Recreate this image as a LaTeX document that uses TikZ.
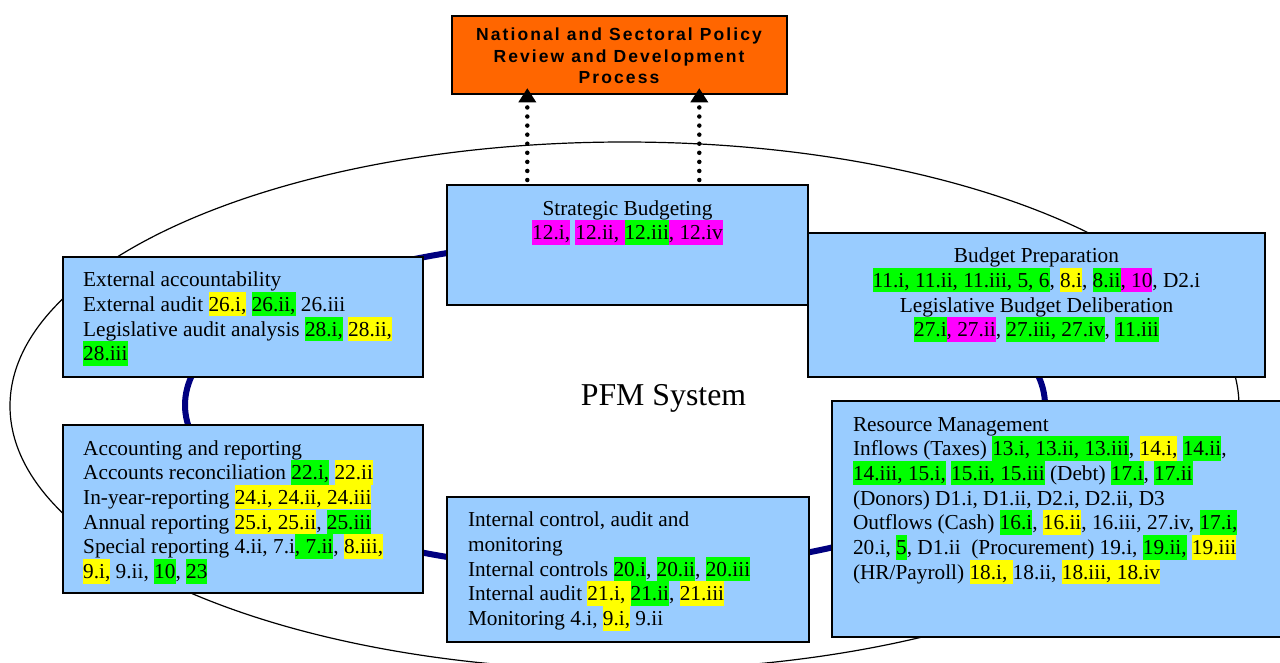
\documentclass[tikz,border=0pt]{standalone}
\usepackage{fontspec}
\setmainfont{Liberation Serif}
\newfontfamily\ofont[LetterSpace=12]{Liberation Sans}
\usetikzlibrary{arrows.meta,calc}
\definecolor{boxblue}{HTML}{99CCFF}
\definecolor{orangefill}{HTML}{FF6600}
\definecolor{ringnavy}{RGB}{0,0,128}
\definecolor{hly}{HTML}{FFFF00}
\definecolor{hlg}{HTML}{00FF00}
\definecolor{hlm}{HTML}{FF00FF}
\newcommand\hlbox[2]{{\setlength{\fboxsep}{0pt}\colorbox{#1}{\rule[-5pt]{0pt}{24.5pt}#2}}}
\newcommand\hy[1]{\hlbox{hly}{#1}}
\newcommand\hg[1]{\hlbox{hlg}{#1}}
\newcommand\hm[1]{\hlbox{hlm}{#1}}
\newcommand\leftrows[2]{\vtop{\baselineskip=#1\lineskiplimit=-100pt\lineskip=0pt\halign{##\hfil\cr#2\crcr}}}
\newcommand\centerrows[2]{\vtop{\baselineskip=#1\lineskiplimit=-100pt\lineskip=0pt\halign{\hfil##\hfil\cr#2\crcr}}}
\begin{document}
\begin{tikzpicture}[x=1pt,y=-1pt,
  bluebox/.style={draw=black, line width=2pt, fill=boxblue, outer sep=0pt, inner sep=0pt, anchor=north west},
  bodytext/.style={inner sep=0pt, outer sep=0pt, font=\fontsize{21.3}{24.7}\selectfont},
  dotarrow/.style={line width=4.5pt, line cap=round, dash pattern=on 0pt off 9.07pt,
    -{Triangle[width=18pt,length=14pt,line width=0pt]}, shorten <=5pt, shorten >=-6pt}]
\useasboundingbox (0,0) rectangle (1280,662);
\clip (0,0) rectangle (1280,662);
\fill[white] (0,0) rectangle (1280,662);
% outer thin ellipse and navy ring
\draw[line width=1.2pt] (624.5,406) ellipse [x radius=614.5pt, y radius=264pt];
\draw[ringnavy, line width=6pt] (615,405) ellipse [x radius=430pt, y radius=165pt];
% boxes
\node[bluebox, minimum width=361pt, minimum height=120pt] (sb) at (447,185) {};
\node[bluebox, minimum width=457pt, minimum height=144pt] (bp) at (808,232.7) {};
\node[bluebox, minimum width=360pt, minimum height=120.6pt] (ea) at (62.5,256.7) {};
\node[bluebox, minimum width=360pt, minimum height=168pt] (ar) at (62.5,425) {};
\node[bluebox, minimum width=361.7pt, minimum height=145pt] (ic) at (447.3,496.7) {};
\node[bluebox, minimum width=460pt, minimum height=236pt] (rm) at (832.3,401) {};
\node[draw=black, line width=2pt, fill=orangefill, minimum width=335pt, minimum height=78.3pt,
  anchor=north west, outer sep=0pt, inner sep=0pt] (ob) at (451.7,16) {};
% texts
\node[inner sep=0pt, anchor=base, font=\ofont\bfseries\fontsize{17.5}{21.3}\selectfont] (obt) at (619,40.7)
  {\centerrows{21.3pt}{National and Sectoral Policy\cr Review and Development\cr Process}};
\node[bodytext, anchor=base] (sbt) at ($(sb.north)+(0,30)$)
  {\centerrows{24.7pt}{Strategic Budgeting\cr
  \hm{12.i,} \hm{12.ii, }\hg{12.iii}\hm{, 12.iv}}};
\node[bodytext, anchor=base] (bpt) at ($(bp.north)+(0,30)$)
  {\centerrows{24.7pt}{Budget Preparation\cr
  \hg{11.i, 11.ii, 11.iii, 5, 6}, \hy{8.i}, \hg{8.ii}\hm{, 10}, D2.i\cr
  Legislative Budget Deliberation\cr
  \hg{27.i}\hm{, 27.ii}, \hg{27.iii, 27.iv}, \hg{11.iii}}};
\node[bodytext, anchor=base west] (eat) at ($(ea.north west)+(20.7,30)$)
  {\leftrows{24.7pt}{External accountability\cr
  External audit \hy{26.i,} \hg{26.ii,} 26.iii\cr
  Legislative audit analysis \hg{28.i,} \hy{28.ii,}\cr
  \hg{28.iii}}};
\node[bodytext, anchor=base west] (art) at ($(ar.north west)+(20.7,30)$)
  {\leftrows{24.7pt}{Accounting and reporting\cr
  Accounts reconciliation \hg{22.i,} \hy{22.ii}\cr
  In-year-reporting \hy{24.i, 24.ii, 24.iii}\cr
  Annual reporting \hy{25.i, 25.ii}, \hg{25.iii}\cr
  Special reporting 4.ii, 7.i\hg{, 7.ii}, \hy{8.iii,}\cr
  \hy{9.i,} 9.ii, \hg{10}, \hg{23}}};
\node[bodytext, anchor=base west] (ict) at ($(ic.north west)+(20.7,30)$)
  {\leftrows{24.7pt}{Internal control, audit and\cr
  monitoring\cr
  Internal controls \hg{20.i}, \hg{20.ii}, \hg{20.iii}\cr
  Internal audit \hy{21.i, }\hg{21.ii}, \hy{21.iii}\cr
  Monitoring 4.i, \hy{9.i,} 9.ii}};
\node[bodytext, anchor=base west] (rmt) at ($(rm.north west)+(20.7,30)$)
  {\leftrows{24.7pt}{Resource Management\cr
  Inflows (Taxes) \hg{13.i, 13.ii, 13.iii}, \hy{14.i,} \hg{14.ii},\cr
  \hg{14.iii, 15.i,} \hg{15.ii, 15.iii} (Debt) \hg{17.i}, \hg{17.ii}\cr
  (Donors) D1.i, D1.ii, D2.i, D2.ii, D3\cr
  Outflows (Cash) \hg{16.i}, \hy{16.ii}, 16.iii, 27.iv, \hg{17.i,}\cr
  20.i, \hg{5}, D1.ii\ \ (Procurement) 19.i, \hg{19.ii,} \hy{19.iii}\cr
  (HR/Payroll) \hy{18.i, }18.ii, \hy{18.iii, 18.iv}}};
\node[inner sep=0pt, anchor=base, font=\fontsize{31.8}{36}\selectfont] (pfm) at (663.5,405) {PFM System};
% dotted arrows
\coordinate (a1) at (527.3,0);
\coordinate (a2) at (699.3,0);
\draw[dotarrow] (sb.north -| a1) -- (ob.south -| a1);
\draw[dotarrow] (sb.north -| a2) -- (ob.south -| a2);
\end{tikzpicture}
\end{document}
